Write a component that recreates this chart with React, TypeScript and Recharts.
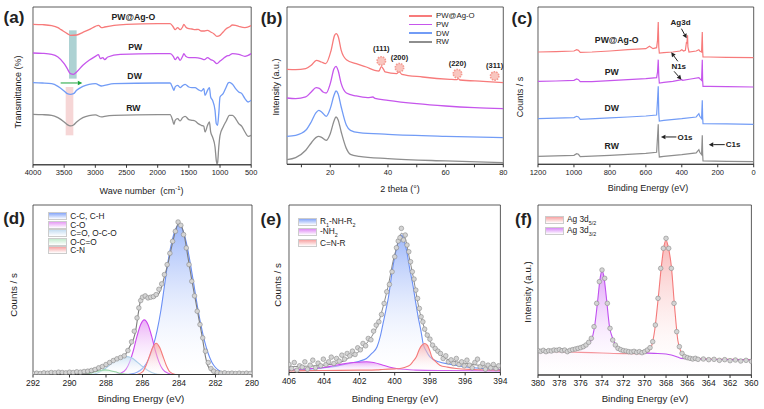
import React from 'react';
import { ComposedChart, Line, Area, Scatter, XAxis, YAxis, ReferenceArea, ReferenceLine, ReferenceDot } from 'recharts';

const FONT = 'Arial, "Liberation Sans", Helvetica, sans-serif';
const INK = '#222';
const RED = '#f77b7b';
const MAG = '#c656ec';
const BLUE = '#729cf6';
const GREY = '#8e8e8e';

type Pt = [number, number];
const pts = (a: Pt[]) => a.map(([x, y]) => ({ x, y }));

// ---- (a) FTIR, offset transmittance (arb.)
const ftirPWAg: Pt[] = [[4000,423],[3850,422],[3700,419],[3600,413],[3550,407],[3450,395],[3400,390],[3300,391],[3200,399],[3100,407],[3000,417],[2950,420],[2900,413],[2850,415],[2700,420],[2500,423],[2000,425],[1800,425],[1750,415],[1720,407],[1680,413],[1640,407],[1600,415],[1580,423],[1550,415],[1500,410],[1450,409],[1400,407],[1350,408],[1300,403],[1250,403],[1200,405],[1150,400],[1100,395],[1050,387],[1000,390],[950,400],[900,410],[850,415],[800,421],[750,420],[700,417],[600,413],[500,419]];
const ftirPW: Pt[] = [[4000,337],[3850,336],[3700,333],[3600,325],[3500,305],[3450,290],[3400,275],[3350,273],[3300,280],[3200,300],[3100,315],[3000,327],[2950,332],[2920,320],[2880,323],[2850,317],[2800,325],[2600,333],[2000,335],[1800,335],[1750,327],[1720,317],[1680,325],[1640,315],[1600,327],[1580,335],[1550,327],[1500,323],[1400,323],[1300,320],[1250,317],[1200,323],[1150,317],[1100,313],[1050,305],[1000,313],[950,320],[900,327],[850,330],[800,335],[700,333],[600,327],[500,335]];
const ftirDW: Pt[] = [[4000,248],[3850,247],[3700,245],[3600,237],[3500,223],[3450,215],[3400,213],[3350,215],[3300,225],[3200,237],[3100,243],[3000,245],[2900,238],[2850,240],[2700,245],[2000,247],[1800,247],[1760,233],[1740,225],[1720,235],[1680,240],[1640,233],[1600,239],[1560,243],[1500,235],[1450,233],[1400,233],[1350,227],[1300,223],[1260,230],[1240,210],[1200,225],[1170,233],[1150,205],[1120,195],[1080,165],[1060,125],[1040,120],[1020,155],[1000,205],[950,215],[900,235],[870,247],[850,249],[800,243],[750,230],[700,220],[650,215],[600,200],[550,190],[500,195]];
const ftirRW: Pt[] = [[4000,153],[3850,152],[3700,150],[3600,143],[3500,130],[3450,122],[3400,118],[3350,121],[3300,130],[3200,143],[3100,149],[3000,151],[2900,145],[2850,147],[2700,150],[2000,152],[1800,152],[1760,135],[1740,123],[1720,135],[1680,140],[1640,133],[1600,143],[1560,147],[1500,137],[1450,135],[1400,133],[1350,125],[1300,120],[1260,117],[1240,100],[1200,120],[1170,130],[1150,100],[1120,85],[1080,55],[1060,15],[1050,5],[1040,7],[1020,55],[1000,90],[950,115],[900,133],[850,150],[800,150],[750,140],[700,125],[650,117],[600,100],[550,87],[500,90]];
const ftirTicks = [4000, 3500, 3000, 2500, 2000, 1500, 1000, 500];

// ---- (b) XRD
const xrdPWAg: Pt[] = [[5,283],[8,282],[11.5,285],[13.4,295],[15.2,310],[16.9,305],[18.4,300],[20.3,340],[21.5,385],[22.1,390],[22.8,380],[23.8,340],[25.6,312],[29,300],[32.5,290],[35.4,280],[36.9,278],[37.7,291],[38.4,284],[39,275],[43,270],[43.9,276],[44.8,268],[52,260],[61.5,253],[63.8,252],[64.4,255],[65,251],[73,247],[80,243]];
const xrdPW: Pt[] = [[5,197],[8,195],[11.5,200],[13.4,215],[15.1,228],[16.2,226],[17.5,215],[18.6,212],[20,240],[21.3,285],[22,292],[22.7,280],[23.8,240],[25.6,212],[29,203],[33,198],[34.8,200],[35.5,196],[40,190],[50,180],[60,173],[70,168],[80,165]];
const xrdDW: Pt[] = [[5,82],[8,85],[11.5,100],[13.4,125],[15,152],[16,160],[17,155],[18.6,142],[20,165],[21.3,205],[22,218],[22.7,210],[23.8,170],[25.6,115],[27,100],[30,93],[40,88],[60,82],[80,78]];
const xrdRW: Pt[] = [[5,12],[8,18],[11.5,40],[13.4,62],[15,78],[16,82],[17,79],[18.6,70],[20,90],[21.3,128],[22,140],[22.7,132],[23.8,95],[25.6,45],[27,28],[30,22],[40,15],[60,8],[80,3]];
const xrdTicks = [10, 20, 30, 40, 50, 60, 70, 80];
const agPeaks = [
  { hkl: '(111)', x: 37.7, y: 308, ly: 345 },
  { hkl: '(200)', x: 44.0, y: 288, ly: 320 },
  { hkl: '(220)', x: 64.1, y: 270, ly: 300 },
  { hkl: '(311)', x: 77.0, y: 263, ly: 295 },
];

// ---- (c) XPS survey
const surPWAg: Pt[] = [[1200,335],[1100,336],[1000,338],[985,342],[975,340],[965,334],[900,335],[800,338],[700,342],[600,345],[580,352],[560,345],[540,348],[535,370],[531,425],[528,350],[525,332],[500,333],[450,335],[410,338],[400,342],[390,338],[380,340],[374,365],[372,360],[368,385],[366,350],[360,335],[320,338],[305,342],[300,338],[290,335],[286,395],[284,340],[282,320],[250,320],[150,319],[0,318]];
const surPW: Pt[] = [[1200,247],[1100,248],[1000,250],[985,254],[975,252],[965,246],[900,246],[800,249],[700,252],[600,255],[540,258],[535,275],[531,312],[528,262],[525,242],[500,244],[450,247],[400,252],[395,250],[350,254],[305,258],[300,255],[290,250],[286,312],[284,250],[282,232],[250,232],[150,231],[0,230]];
const surDW: Pt[] = [[1200,135],[1000,138],[985,142],[975,140],[965,133],[800,137],[700,140],[600,143],[540,146],[535,190],[531,232],[528,150],[525,128],[500,130],[400,135],[320,140],[305,150],[300,142],[290,135],[286,190],[284,140],[282,120],[150,119],[0,118]];
const surRW: Pt[] = [[1200,22],[1000,25],[985,30],[975,28],[965,21],[800,25],[700,28],[600,31],[540,34],[535,80],[531,118],[528,40],[525,20],[500,22],[400,27],[320,32],[305,42],[300,34],[290,27],[286,85],[284,30],[282,8],[150,7],[0,6]];
const surTicks = [1200, 1000, 800, 600, 400, 200, 0];

// ---- (d) C1s
const c1sDots: Pt[] = [[292,3],[291.8,4],[291.6,3],[291.4,5],[291.2,4],[291,6],[290.8,5],[290.6,7],[290.4,6],[290.2,5],[290,7],[289.8,6],[289.6,8],[289.4,7],[289.2,9],[289,10],[288.8,12],[288.6,15],[288.4,20],[288.2,24],[288,30],[287.8,36],[287.6,42],[287.4,47],[287.2,51],[287,56],[286.8,72],[286.6,98],[286.45,130],[286.3,170],[286.2,200],[286.1,222],[286,232],[285.85,236],[285.7,230],[285.55,232],[285.4,234],[285.25,240],[285.1,256],[284.95,272],[284.8,300],[284.65,330],[284.5,364],[284.35,400],[284.2,430],[284.05,458],[283.9,448],[283.75,420],[283.6,380],[283.45,330],[283.3,280],[283.15,236],[283,190],[282.85,150],[282.7,110],[282.55,70],[282.4,36],[282.25,18],[282.1,10],[281.9,6],[281.7,4],[281.5,5],[281.3,3],[281.1,4],[280.9,3],[280.7,4],[280.5,3],[280.3,4],[280.1,3]];
const c1sEnv: Pt[] = [[292,2],[291,3],[290,4],[289,5],[288.5,12],[288,28],[287.6,44],[287,56],[286.7,84],[286.4,124],[286.2,194],[286.1,224],[285.9,234],[285.5,229],[285.2,236],[284.95,264],[284.8,294],[284.6,334],[284.4,384],[284.2,429],[284.05,452],[283.9,449],[283.7,414],[283.5,349],[283.3,284],[283.1,224],[282.9,164],[282.7,104],[282.55,54],[282.4,24],[282.1,6],[281.8,2],[281,2],[280,2]];
const c1sCC: Pt[] = [[281,0],[281.4,3],[281.7,8],[282,21],[282.2,37],[282.4,63],[282.6,100],[282.8,149],[283,208],[283.2,275],[283.4,340],[283.6,397],[283.8,435],[284,449],[284.2,435],[284.4,397],[284.6,340],[284.8,265],[285,190],[285.2,132],[285.4,88],[285.6,55],[285.8,32],[286,18],[286.3,7],[286.6,2],[287,0]];
const c1sCO: Pt[] = [[284.3,0],[284.6,4],[284.9,16],[285.1,38],[285.3,72],[285.5,115],[285.7,150],[285.9,164],[286.1,150],[286.3,115],[286.5,72],[286.7,38],[286.9,16],[287.2,4],[287.5,0]];
const c1sCeqO: Pt[] = [[289,0],[288.6,2],[288.2,12],[287.9,24],[287.6,38],[287.3,50],[286.95,54],[286.6,50],[286.3,38],[286,24],[285.7,12],[285.3,2],[285,0]];
const c1sOCO: Pt[] = [[289.3,0],[289,2],[288.6,8],[288.3,12],[288.05,14],[287.8,12],[287.5,8],[287.1,2],[286.8,0]];
const c1sCN: Pt[] = [[284.2,0],[284.5,8],[284.7,28],[284.9,58],[285.05,80],[285.25,94],[285.45,80],[285.6,58],[285.8,28],[286,8],[286.3,0]];
const c1sTicks = [292, 290, 288, 286, 284, 282, 280];

// ---- (e) N1s
const n1sDots: Pt[] = [[406,22],[405.85,10],[405.7,28],[405.55,5],[405.4,18],[405.25,14],[405.1,30],[404.95,8],[404.8,20],[404.65,35],[404.5,12],[404.35,26],[404.2,18],[404.05,38],[403.9,22],[403.75,30],[403.6,44],[403.45,25],[403.3,40],[403.15,32],[403,50],[402.85,38],[402.7,55],[402.55,48],[402.4,62],[402.25,52],[402.1,72],[401.95,66],[401.8,85],[401.65,78],[401.5,100],[401.35,96],[401.2,122],[401.05,140],[400.9,150],[400.75,172],[400.6,205],[400.45,240],[400.3,262],[400.15,300],[400,345],[399.9,372],[399.8,392],[399.7,402],[399.62,430],[399.5,395],[399.4,410],[399.3,380],[399.2,360],[399.1,330],[399,300],[398.9,278],[398.8,245],[398.7,220],[398.6,190],[398.5,165],[398.4,150],[398.3,128],[398.15,110],[398,98],[397.85,80],[397.7,70],[397.55,62],[397.4,55],[397.25,40],[397.1,48],[396.95,30],[396.8,36],[396.65,25],[396.5,40],[396.35,22],[396.2,30],[396.05,18],[395.9,35],[395.75,20],[395.6,12],[395.45,28],[395.3,38],[395.15,15],[395,25],[394.85,8],[394.7,20],[394.55,12],[394.4,22],[394.25,10],[394.1,18]];
const n1sEnv: Pt[] = [[406,15],[405,17],[404,20],[403,30],[402.5,45],[402,62],[401.6,85],[401.2,115],[401,135],[400.66,195],[400.3,275],[400.1,330],[399.9,370],[399.62,415],[399.4,400],[399.2,350],[398.95,285],[398.6,185],[398.2,115],[397.8,75],[397.25,45],[396.5,30],[395.9,25],[395,18],[394,15]];
const n1sRNHR: Pt[] = [[406,5],[405,7],[404.5,10],[403.5,15],[402.6,25],[402,32],[401.6,40],[401.3,55],[401,75],[400.8,110],[400.66,145],[400.5,185],[400.35,225],[400.2,280],[400.1,315],[399.9,370],[399.75,400],[399.62,410],[399.5,400],[399.33,365],[399.15,310],[398.95,255],[398.8,205],[398.67,165],[398.5,120],[398.39,85],[398.2,62],[398,45],[397.5,30],[396.87,23],[396,15],[395,10],[394,7]];
const n1sNH2: Pt[] = [[406,5],[405,9],[404,13],[403.5,18],[403,23],[402.5,27],[402,29],[401.6,30],[401.2,28],[400.66,20],[400.2,13],[399.9,10],[399.3,7],[398.8,5],[397,4],[394,3]];
const n1sCNR: Pt[] = [[406,3],[404,4],[402,5],[401,6],[400.7,7],[400,9],[399.7,10],[399.4,14],[399.14,20],[398.95,32],[398.77,45],[398.6,68],[398.45,80],[398.3,85],[398.15,80],[398,62],[397.9,45],[397.7,32],[397.44,20],[397,14],[396.5,10],[395.5,7],[394,5]];
const n1sTicks = [406, 404, 402, 400, 398, 396, 394];

// ---- (f) Ag3d
const agDots: Pt[] = [[380,73],[379.75,71],[379.5,74],[379.25,70],[379,73],[378.75,72],[378.5,75],[378.25,74],[378,76],[377.75,73],[377.5,75],[377.25,70],[377,74],[376.75,76],[376.5,78],[376.25,80],[376,82],[375.75,85],[375.5,90],[375.25,98],[375,110],[374.75,145],[374.5,215],[374.25,280],[374,315],[373.75,290],[373.5,215],[373.25,140],[373,105],[372.75,90],[372.5,80],[372.25,76],[372,73],[371.75,72],[371.5,70],[371.25,69],[371,71],[370.75,68],[370.5,70],[370.25,67],[370,70],[369.75,75],[369.5,82],[369.25,100],[369,150],[368.75,230],[368.5,320],[368.25,380],[368,410],[367.75,380],[367.5,320],[367.25,215],[367,130],[366.75,85],[366.5,65],[366.25,55],[366,52],[365.75,50],[365.5,48],[365.25,50],[365,47],[364.5,48],[364,46],[363.5,47],[363,44],[362.5,46],[362,43],[361.5,45],[361,42],[360.5,44],[360,41]];
const ag52: Pt[] = [[380,72],[378,70],[376,68],[374,66],[372,64],[370.5,64],[370,66],[369.6,72],[369.37,85],[369.06,135],[368.75,225],[368.44,325],[368.2,385],[368,405],[367.8,385],[367.5,325],[367.2,205],[366.9,105],[366.6,70],[366.4,60],[365.6,50],[364,48],[362,47],[360,46]];
const ag32: Pt[] = [[380,70],[379,72],[378,73],[377,74],[376.5,76],[376,80],[375.6,85],[375.3,95],[375,105],[374.7,145],[374.4,225],[374.2,285],[374,313],[373.8,290],[373.6,235],[373.3,145],[373,110],[372.8,95],[372.5,82],[372.2,75],[371.5,70],[370.6,67],[369.1,65],[368,63],[367.5,60],[367,55],[366.6,50],[365,48],[364.4,47],[362,46],[360,45]];
const agTicks = [380, 378, 376, 374, 372, 370, 368, 366, 364, 362, 360];

type Rect = { x0: number; y0: number; x1: number; y1: number };
const RA: Rect = { x0: 32.5, y0: 6.7, x1: 250.7, y1: 164.5 };
const RB: Rect = { x0: 287, y0: 6.7, x1: 503.3, y1: 164 };
const RC: Rect = { x0: 538.3, y0: 6.7, x1: 754, y1: 164 };
const RD: Rect = { x0: 32.5, y0: 205, x1: 251.5, y1: 374.5 };
const RE: Rect = { x0: 289.3, y0: 205, x1: 500.7, y1: 372.5 };
const RF: Rect = { x0: 538.3, y0: 205, x1: 751.7, y1: 375 };

const PX = 14;
const PT = 4;
const XH = 18;

function panel(r: Rect, xDom: [number, number], rev: boolean, ticks: number[], yDom: [number, number], fs: number, children: React.ReactNode, fmt?: (v: number) => string) {
  return (
    <div style={{ position: 'absolute', left: r.x0 - PX, top: r.y0 - PT }}>
      <ComposedChart width={r.x1 - r.x0 + 2 * PX} height={r.y1 - r.y0 + PT + XH + 2} margin={{ top: PT, right: PX, bottom: 2, left: PX }}>
        <XAxis type="number" dataKey="x" domain={xDom} reversed={rev} ticks={ticks} interval={0} tickSize={3} height={XH}
          allowDataOverflow axisLine={{ stroke: '#333' }} tickLine={{ stroke: '#333' }} tickFormatter={fmt}
          tick={{ fontSize: fs, fill: INK, fontFamily: FONT }} />
        <YAxis type="number" dataKey="y" hide domain={yDom} allowDataOverflow />
        {children}
        <ReferenceArea x1={xDom[0]} x2={xDom[1]} y1={yDom[0]} y2={yDom[1]} fill="none" stroke="#333" strokeWidth={0.8} ifOverflow="visible" />
      </ComposedChart>
    </div>
  );
}

const arrowShape = (color: string) => (p: any) => {
  const { x1, y1, x2, y2 } = p;
  const a = Math.atan2(y2 - y1, x2 - x1);
  const L = 4.5, W = 2.3;
  const bx = x2 - L * Math.cos(a), by = y2 - L * Math.sin(a);
  const tri = `${x2},${y2} ${bx - W * Math.sin(a)},${by + W * Math.cos(a)} ${bx + W * Math.sin(a)},${by - W * Math.cos(a)}`;
  return (
    <g>
      <line x1={x1} y1={y1} x2={bx} y2={by} stroke={color} strokeWidth={1} />
      <polygon points={tri} fill={color} />
    </g>
  );
};

const arrow = (k: string, from: Pt, to: Pt, color = INK) => (
  <ReferenceLine key={k} segment={[{ x: from[0], y: from[1] }, { x: to[0], y: to[1] }]} ifOverflow="visible" shape={arrowShape(color)} />
);

const tag = (k: string, text: string, x: number, y: number, fs: number, bold = true) => (
  <ReferenceDot key={k} x={x} y={y} r={0} fill="none" stroke="none" ifOverflow="visible"
    label={{ value: text, position: 'center', fontSize: fs, fontWeight: bold ? 'bold' : 'normal', fill: INK, fontFamily: FONT }} />
);

const T = ({ x, y, fs, rot, bold, children }: any) => (
  <div style={{ position: 'absolute', left: x, top: y, transform: `translate(-50%, -50%)${rot ? ' rotate(-90deg)' : ''}`, fontSize: fs, fontWeight: bold ? 'bold' : 'normal', whiteSpace: 'nowrap', lineHeight: 1, color: INK }}>
    {children}
  </div>
);

const stack = [
  { name: 'PW@Ag-O', color: RED, a: ftirPWAg, b: xrdPWAg, c: surPWAg },
  { name: 'PW', color: MAG, a: ftirPW, b: xrdPW, c: surPW },
  { name: 'DW', color: BLUE, a: ftirDW, b: xrdDW, c: surDW },
  { name: 'RW', color: GREY, a: ftirRW, b: xrdRW, c: surRW },
];

const c1sComps = [
  { id: 'cc', name: 'C-C, C-H', line: '#6a8ff5', fill: '#86a6f8', data: c1sCC },
  { id: 'co', name: 'C-O', line: '#cc48ee', fill: '#e69af5', data: c1sCO },
  { id: 'ceo', name: 'C=O, O-C-O', line: '#a9cde8', fill: '#c5def2', data: c1sCeqO },
  { id: 'oco', name: 'O-C=O', line: '#93d3a2', fill: '#c4ebce', data: c1sOCO },
  { id: 'cn', name: 'C-N', line: '#f47a7a', fill: '#f7a3a3', data: c1sCN },
];
const n1sComps = [
  { id: 'rnhr', name: <>R<sub style={{ fontSize: '0.65em' }}>1</sub>-NH-R<sub style={{ fontSize: '0.65em' }}>2</sub></>, line: '#6a8ff5', fill: '#86a6f8', data: n1sRNHR },
  { id: 'nh2', name: <>-NH<sub style={{ fontSize: '0.65em' }}>2</sub></>, line: '#cc48ee', fill: '#e08af5', data: n1sNH2 },
  { id: 'cnr', name: 'C=N-R', line: '#f47a7a', fill: '#f7a3a3', data: n1sCNR },
];
const agComps = [
  { id: 'a52', name: <>Ag 3d<sub style={{ fontSize: '0.65em' }}>5/2</sub></>, line: '#f47a7a', fill: '#f7a3a3', data: ag52 },
  { id: 'a32', name: <>Ag 3d<sub style={{ fontSize: '0.65em' }}>3/2</sub></>, line: '#c050f0', fill: '#d98af7', data: ag32 },
];

const grads = (comps: any[], pre: string) => (
  <defs key={pre + 'defs'}>
    {comps.map((c) => (
      <linearGradient key={c.id} id={pre + c.id} x1="0" y1="0" x2="0" y2="1">
        <stop offset="0%" stopColor={c.fill} stopOpacity={0.8} />
        <stop offset="100%" stopColor="#ffffff" stopOpacity={0.1} />
      </linearGradient>
    ))}
  </defs>
);

const compMarks = (comps: any[], pre: string) =>
  comps.map((c) => (
    <Area key={c.id} data={pts(c.data)} dataKey="y" type="monotone" stroke={c.line} strokeWidth={1.1} fill={`url(#${pre}${c.id})`} fillOpacity={1} isAnimationActive={false} />
  ));

const dotShape = (p: any) => <circle cx={p.cx} cy={p.cy} r={2.3} fill="#d4d4d4" stroke="#8a8a8a" strokeWidth={0.6} />;

const BoxLegend = ({ comps, x, y, gap, fs }: any) => (
  <div style={{ position: 'absolute', left: x, top: y, fontSize: fs, color: INK }}>
    {comps.map((c: any) => (
      <div key={c.id} style={{ display: 'flex', alignItems: 'center', height: gap }}>
        <div style={{ width: 17, height: 6, border: '0.5px solid #ccc', background: `linear-gradient(to bottom, ${c.fill}, #ffffff)`, marginRight: 3 }} />
        <span>{c.name}</span>
      </div>
    ))}
  </div>
);

export default function App() {
  return (
    <div style={{ position: 'absolute', left: 0, top: 0, width: 764, height: 409, background: '#fff', fontFamily: FONT, overflow: 'hidden' }}>
      {/* (a) FTIR */}
      {panel(RA, [500, 4000], true, ftirTicks, [1.5, 475], 7.5, [
        <ReferenceArea key="teal" x1={3300} x2={3423} y1={260} y2={405} fill="#9fcacb" fillOpacity={0.85} stroke="none" />,
        <ReferenceArea key="pink" x1={3353} x2={3476} y1={90} y2={235} fill="#f4cfcf" fillOpacity={0.85} stroke="none" />,
        ...stack.map((s) => (
          <Line key={s.name} data={pts(s.a)} dataKey="y" type="monotone" stroke={s.color} strokeWidth={1.3} dot={false} isAnimationActive={false} />
        )),
        arrow('g', [3556, 247], [3209, 247], '#1aa33a'),
        tag('t1', 'PW@Ag-O', 2390, 444, 8.7),
        tag('t2', 'PW', 2360, 354, 8.7),
        tag('t3', 'DW', 2370, 267, 8.7),
        tag('t4', 'RW', 2390, 171, 8.7),
      ])}
      <T x={18.3} y={91.7} fs={9} rot>Transmittance (%)</T>
      <T x={141.5} y={190.5} fs={9}>Wave number&nbsp; (cm<sup style={{ fontSize: '0.65em' }}>-1</sup>)</T>
      <T x={14} y={16.7} fs={17} bold>(a)</T>

      {/* (b) XRD */}
      {panel(RB, [5, 80], false, xrdTicks, [-2, 470], 7.5, [
        ...stack.map((s) => (
          <Line key={s.name} data={pts(s.b)} dataKey="y" name={s.name} type="monotone" stroke={s.color} strokeWidth={1.3} dot={false} isAnimationActive={false} />
        )),
        ...agPeaks.map((p) => (
          <ReferenceDot key={p.hkl} x={p.x} y={p.y} r={4.2} fill="#f9c6bf" stroke="#f39a90" strokeWidth={1.6} strokeDasharray="1.6 1" />
        )),
        ...agPeaks.map((p) => tag('l' + p.hkl, p.hkl, p.x, p.ly, 7.5)),
      ], (v) => (v % 20 === 0 ? String(v) : ''))}
      <div style={{ position: 'absolute', left: 409, top: 11.5, fontSize: 7.8, color: INK }}>
        {stack.map((s) => (
          <div key={s.name} style={{ display: 'flex', alignItems: 'center', height: 8.7 }}>
            <div style={{ width: 23, height: 1.5, background: s.color, marginRight: 4 }} />
            <span>{s.name}</span>
          </div>
        ))}
      </div>
      <T x={276} y={87} fs={9} rot>Intensity (a.u.)</T>
      <T x={400} y={188.5} fs={9}>2 theta (°)</T>
      <T x={271.5} y={17.5} fs={17} bold>(b)</T>

      {/* (c) XPS survey */}
      {panel(RC, [0, 1200], true, surTicks, [-2, 470], 7.5, [
        ...stack.map((s) => (
          <Line key={s.name} data={pts(s.c)} dataKey="y" type="linear" stroke={s.color} strokeWidth={1.2} dot={false} isAnimationActive={false} />
        )),
        tag('c1', 'PW@Ag-O', 762, 370, 8.7),
        tag('c2', 'PW', 790, 274, 8.7),
        tag('c3', 'DW', 790, 166, 8.7),
        tag('c4', 'RW', 790, 52, 8.7),
        tag('c5', 'Ag3d', 407, 425, 8),
        tag('c6', 'N1s', 417, 293, 8),
        tag('c7', 'O1s', 382, 80, 8),
        tag('c8', 'C1s', 115, 57, 8),
        arrow('a1', [402, 405], [373, 376]),
        arrow('a2', [422, 307], [459, 334]),
        arrow('a3', [443, 277], [402, 252]),
        arrow('a4', [430, 80], [516, 80]),
        arrow('a5', [161, 57], [250, 57]),
      ])}
      <T x={520} y={96.7} fs={9} rot>Counts / s</T>
      <T x={648} y={188} fs={9}>Binding Energy (eV)</T>
      <T x={522} y={17.5} fs={17} bold>(c)</T>

      {/* (d) C1s */}
      {panel(RD, [280, 292], true, c1sTicks, [0, 509], 8.5, [
        grads(c1sComps, 'gd'),
        ...compMarks(c1sComps, 'gd'),
        <Line key="env" data={pts(c1sEnv)} dataKey="y" type="monotone" stroke="#7d7d7d" strokeWidth={1.1} dot={false} isAnimationActive={false} />,
        <Scatter key="dots" data={pts(c1sDots)} shape={dotShape} isAnimationActive={false} />,
      ])}
      <BoxLegend comps={c1sComps} x={48.3} y={211.7} gap={8.6} fs={8.3} />
      <T x={14} y={295} fs={9.7} rot>Counts / s</T>
      <T x={141} y={399} fs={9.7}>Binding Energy (eV)</T>
      <T x={14} y={217.5} fs={17} bold>(d)</T>

      {/* (e) N1s */}
      {panel(RE, [394, 406], true, n1sTicks, [-2, 500], 8.5, [
        grads(n1sComps, 'ge'),
        ...compMarks(n1sComps, 'ge'),
        <Line key="env" data={pts(n1sEnv)} dataKey="y" type="monotone" stroke="#8a8a8a" strokeWidth={1} dot={false} isAnimationActive={false} />,
        <Scatter key="dots" data={pts(n1sDots)} shape={dotShape} isAnimationActive={false} />,
      ])}
      <BoxLegend comps={n1sComps} x={298} y={216.5} gap={10.5} fs={8.3} />
      <T x={278} y={285} fs={9.7} rot>Counts / s</T>
      <T x={395} y={399} fs={9.7}>Binding Energy (eV)</T>
      <T x={271} y={218.5} fs={17} bold>(e)</T>

      {/* (f) Ag3d */}
      {panel(RF, [360, 380], true, agTicks, [0, 510], 8.5, [
        grads(agComps, 'gf'),
        ...compMarks(agComps, 'gf'),
        <Scatter key="dots" data={pts(agDots)} shape={dotShape} isAnimationActive={false} />,
      ])}
      <BoxLegend comps={agComps} x={545} y={214.5} gap={11.2} fs={8.3} />
      <T x={528} y={291.7} fs={9.7} rot>Intensity (a.u.)</T>
      <T x={645} y={399} fs={9.7}>Binding Energy (eV)</T>
      <T x={523.5} y={218.5} fs={17} bold>(f)</T>
    </div>
  );
}
